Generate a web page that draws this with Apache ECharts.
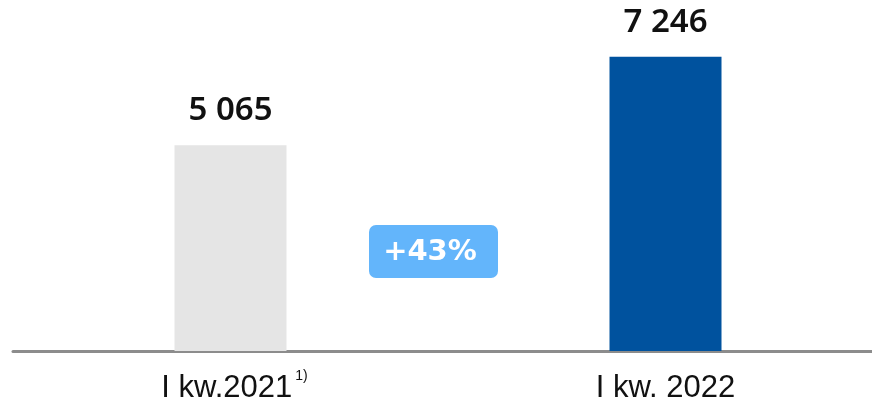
<!DOCTYPE html>
<html><head><meta charset="utf-8">
<script src="https://cdn.jsdelivr.net/npm/echarts@6/dist/echarts.min.js"></script>
<style>html,body{margin:0;padding:0;background:#fff}#c{width:872px;height:407px}</style>
</head><body><div id="c"></div>
<script>
const categories = ['I kw.2021', 'I kw. 2022'];
const footnotes = ['1)', ''];
const values = [5065, 7246];
const barColors = ['#e5e5e5', '#00529e'];
const changeLabel = '+43%';

const chart = echarts.init(document.getElementById('c'), null, {renderer: 'canvas'});
const fmt = v => String(v).replace(/\B(?=(\d{3})+(?!\d))/g, ' ');
chart.setOption({
  animation: false,
  grid: {left: 13, width: 870, top: 26, bottom: 56, containLabel: false, outerBoundsMode: 'none'},
  xAxis: {
    type: 'category',
    data: categories,
    axisTick: {show: false},
    axisLine: {lineStyle: {color: '#8c8c8c', width: 3}},
    axisLabel: {
      margin: 18,
      formatter: (v, i) => footnotes[i] ? '{p|}{a|' + v + '}{s|' + footnotes[i] + '}' : '{a|' + v + '}',
      rich: {
        p: {width: 8, lineHeight: 38},
        a: {fontFamily: 'Liberation Sans, Arial', fontSize: 31, lineHeight: 38, color: '#111'},
        s: {fontFamily: 'Liberation Sans, Arial', fontSize: 14, lineHeight: 15, color: '#111', verticalAlign: 'top', padding: [0, 0, 0, 3]}
      }
    }
  },
  yAxis: {type: 'value', min: 0, max: 8000, show: false, splitLine: {show: false}},
  series: [{
    type: 'bar',
    barWidth: 112,
    data: values.map((v, i) => ({value: v, itemStyle: {color: barColors[i]}})),
    label: {
      show: true, position: 'top', distance: 18,
      formatter: p => fmt(p.value),
      fontFamily: 'Noto Sans', fontWeight: 600, fontSize: 33, color: '#111'
    }
  }],
  graphic: [{
    type: 'group', left: 369, top: 225,
    children: [
      {type: 'rect', shape: {x: 0, y: 0, width: 129, height: 53, r: 7}, style: {fill: '#63b5fb'}},
      {type: 'text', style: {x: 61, y: 27, text: changeLabel, align: 'center', verticalAlign: 'middle', fill: '#fff', font: 'bold 29px "DejaVu Sans"'}}
    ]
  }]
});
</script></body></html>
